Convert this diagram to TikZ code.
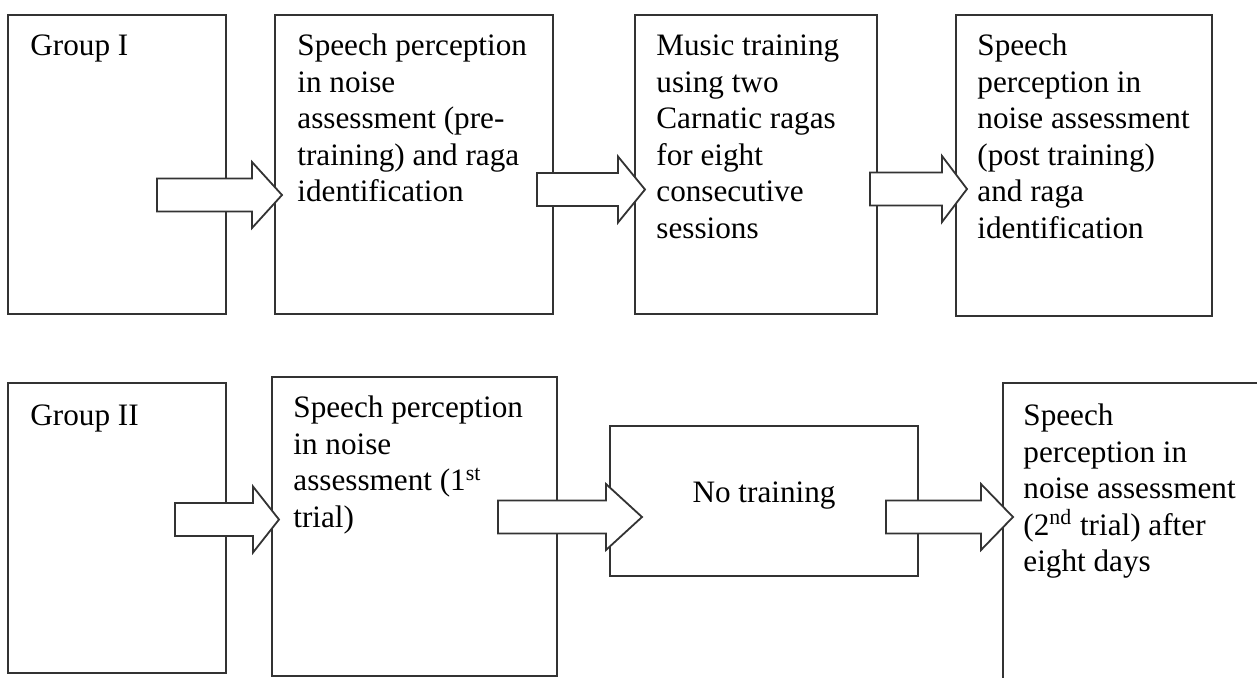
\documentclass[tikz,border=0pt]{standalone}
\usepackage{fontspec}
\setmainfont{Liberation Serif}
\usetikzlibrary{calc,fit}

\tikzset{
  stepbox/.style={draw=black!80, line width=0.9pt, inner sep=0pt},
  boxtext/.style={anchor=north west, inner sep=0pt, align=left, text=black,
    font={\fontsize{15.6}{18.3}\selectfont}},
  midtext/.style={anchor=base, inner sep=0pt, text=black,
    font={\fontsize{15.6}{18.3}\selectfont}},
  fatarr/.style={draw=black!80, line width=0.9pt, fill=white, line join=miter},
}

% block arrow: #1 tail, #2 tip, #3 head length
\newcommand{\fatarrow}[3]{%
  \draw[fatarr] ($(#1)+(0,-16.5)$) -- ($(#2)+(-#3,-16.5)$) -- ($(#2)+(-#3,-33)$)
    -- (#2) -- ($(#2)+(-#3,33)$) -- ($(#2)+(-#3,16.5)$) -- ($(#1)+(0,16.5)$) -- cycle;}

\begin{document}
\begin{tikzpicture}[x=0.5pt,y=0.5pt,yscale=-1]
    \useasboundingbox (0,0) rectangle (1257,677);
    \clip (0,0) rectangle (1257,677);

    % group I
    \node[stepbox, fit={(8,15) (226,314)}] (g1a) {};
    \node[stepbox, fit={(275,15) (553,314)}] (g1b) {};
    \node[stepbox, fit={(635,15) (877,314)}] (g1c) {};
    \node[stepbox, fit={(956,15) (1212,316)}] (g1d) {};

    % group II
    \node[stepbox, fit={(8,383) (226,673)}] (g2a) {};
    \node[stepbox, fit={(272,377) (557,676)}] (g2b) {};
    \node[stepbox, fit={(610,426) (918,576)}] (g2c) {};
    \node[stepbox, fit={(1003,383) (1290,720)}] (g2d) {};

    % arrows
    \coordinate (s1) at (157,195);   \coordinate (e1) at (282,195);
    \coordinate (s2) at (537,189.5); \coordinate (e2) at (645,189.5);
    \coordinate (s3) at (870,189);   \coordinate (e3) at (967,189);
    \coordinate (s4) at (175,519.5); \coordinate (e4) at (279,519.5);
    \coordinate (s5) at (498,517);   \coordinate (e5) at (642,517);
    \coordinate (s6) at (886,517);   \coordinate (e6) at (1013,517);
    \fatarrow{s1}{e1}{30}
    \fatarrow{s2}{e2}{27}
    \fatarrow{s3}{e3}{25}
    \fatarrow{s4}{e4}{26}
    \fatarrow{s5}{e5}{36}
    \fatarrow{s6}{e6}{32}

    % texts
    \node[boxtext] (t1a) at (30,29.4) {\strut Group I};
    \node[boxtext] (t1b) at (297,29.4) {\strut Speech perception\\in noise\\assessment (pre-\\training) and raga\\identification};
    \node[boxtext] (t1c) at (656,29.4) {\strut Music training\\using two\\Carnatic ragas\\for eight\\consecutive\\sessions};
    \node[boxtext] (t1d) at (977,29.4) {\strut Speech\\perception in\\noise assessment\\(post training)\\and raga\\identification};
    \node[boxtext] (t2a) at (30,399.4) {\strut Group II};
    \node[boxtext] (t2b) at (293,391.4) {\strut Speech perception\\in noise\\assessment (1\textsuperscript{st}\\trial)};
    \node[midtext] (t2c) at (764,502) {No training};
    \node[boxtext] (t2d) at (1023,399.4) {\strut Speech\\perception in\\noise assessment\\(2\textsuperscript{nd} trial) after\\eight days};
\end{tikzpicture}
\end{document}
